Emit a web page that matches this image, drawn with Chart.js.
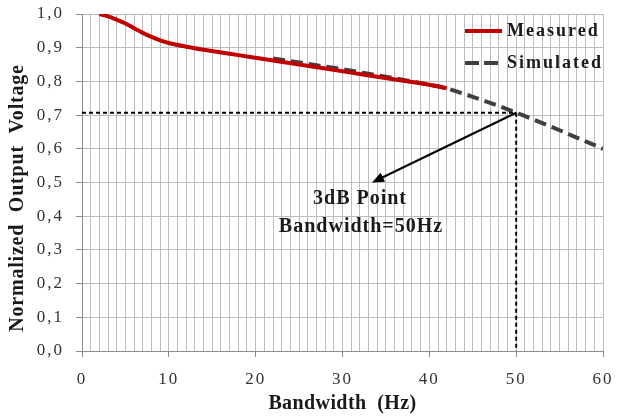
<!DOCTYPE html>
<html>
<head>
<meta charset="utf-8">
<script src="https://cdn.jsdelivr.net/npm/chart.js@4"></script>
<style>
    html, body { margin: 0; padding: 0; background: #fff; }
    #wrap { width: 617px; height: 416px; }
</style>
</head>
<body>
<div id="wrap"><canvas id="chart" width="617" height="416"></canvas></div>
<script>
// Measured response (Hz, normalized output)
const measuredX = [2, 3, 4, 5, 6, 7, 8, 9, 10, 12, 14, 16, 18, 20, 22, 25, 28, 31, 34, 37, 40, 42];
const measuredY = [1.0, 0.993, 0.983, 0.972, 0.958, 0.944, 0.932, 0.922, 0.914, 0.903, 0.894, 0.886,
                   0.878, 0.87, 0.862, 0.85, 0.838, 0.826, 0.814, 0.802, 0.79, 0.78];

// Simulated response
const simulatedX = [22, 26, 30, 34, 38, 42, 44, 46, 48, 50, 52, 54, 56, 58, 60];
const simulatedY = [0.868, 0.852, 0.836, 0.818, 0.8, 0.779, 0.763, 0.745, 0.727, 0.707, 0.687, 0.666, 0.644, 0.622, 0.6];

// 3dB point
const cutoffX = 50;
const cutoffY = 0.707;
const arrowTip = [33.4, 0.5];
const noteLines = ['3dB Point', 'Bandwidth=50Hz'];

const seriesNames = ['Measured', 'Simulated'];
const xTicks = [0, 10, 20, 30, 40, 50, 60];
const xTitle = 'Bandwidth  (Hz)';
const yTitle = 'Normalized  Output  Voltage';

const serif = "'Liberation Serif', 'DejaVu Serif', serif";

function toPoints(xs, ys) {
    return xs.map((x, i) => ({ x: x, y: ys[i] }));
}

// keep the plot area where the picture has it
function noScalePadding(scale) {
    scale.paddingTop = 0;
    scale.paddingBottom = 0;
    scale.paddingLeft = 0;
    scale.paddingRight = 0;
}

// Draws the arrow, the note, the legend and the axis titles
const overlayPlugin = {
    id: 'overlay',
    beforeDraw(chart) {
        // the picture's tick labels are a bit wider than the font
        chart.ctx.letterSpacing = '2px';
    },
    afterDatasetsDraw(chart) {
        const ctx = chart.ctx;
        const xs = chart.scales.x;
        const ys = chart.scales.y;
        const area = chart.chartArea;

        // arrow from the 3dB point down to the note
        const x0 = xs.getPixelForValue(cutoffX), y0 = ys.getPixelForValue(cutoffY);
        const x1 = xs.getPixelForValue(arrowTip[0]), y1 = ys.getPixelForValue(arrowTip[1]);
        const ang = Math.atan2(y1 - y0, x1 - x0);
        ctx.save();
        ctx.strokeStyle = '#000';
        ctx.fillStyle = '#000';
        ctx.lineWidth = 2;
        ctx.beginPath();
        ctx.moveTo(x0, y0);
        ctx.lineTo(x1 - 8 * Math.cos(ang), y1 - 8 * Math.sin(ang));
        ctx.stroke();
        ctx.beginPath();
        ctx.moveTo(x1, y1);
        ctx.lineTo(x1 - 12 * Math.cos(ang) + 5 * Math.sin(ang), y1 - 12 * Math.sin(ang) - 5 * Math.cos(ang));
        ctx.lineTo(x1 - 12 * Math.cos(ang) - 5 * Math.sin(ang), y1 - 12 * Math.sin(ang) + 5 * Math.cos(ang));
        ctx.closePath();
        ctx.fill();

        // note text
        ctx.font = 'bold 20px ' + serif;
        ctx.letterSpacing = '1px';
        ctx.textAlign = 'center';
        ctx.textBaseline = 'middle';
        ctx.fillStyle = '#1a1a1a';
        ctx.fillText(noteLines[0], x1 - 12, y1 + 16);
        ctx.fillText(noteLines[1], x1 - 11, y1 + 44);

        // legend
        const lx = 465, lw = 37;
        const rows = [31, 63];
        ctx.lineWidth = 4;
        ctx.strokeStyle = '#c00000';
        ctx.beginPath();
        ctx.moveTo(lx, rows[0]);
        ctx.lineTo(lx + lw, rows[0]);
        ctx.stroke();
        ctx.strokeStyle = '#404040';
        ctx.setLineDash([14, 5]);
        ctx.beginPath();
        ctx.moveTo(lx, rows[1]);
        ctx.lineTo(lx + lw, rows[1]);
        ctx.stroke();
        ctx.setLineDash([]);
        ctx.font = 'bold 18px ' + serif;
        ctx.letterSpacing = '2px';
        ctx.textAlign = 'left';
        ctx.fillText(seriesNames[0], lx + lw + 5, rows[0]);
        ctx.fillText(seriesNames[1], lx + lw + 5, rows[1]);

        // axis titles
        ctx.font = 'bold 20px ' + serif;
        ctx.letterSpacing = '0.4px';
        ctx.textAlign = 'center';
        ctx.fillText(xTitle, (area.left + area.right) / 2, 404);
        ctx.translate(18, 198);
        ctx.rotate(-Math.PI / 2);
        ctx.letterSpacing = '0.8px';
        ctx.fillText(yTitle, 0, 0);
        ctx.restore();
    }
};

new Chart(document.getElementById('chart'), {
    type: 'scatter',
    data: {
        datasets: [
            {
                label: '3dB level',
                data: [{ x: 0, y: cutoffY }, { x: cutoffX, y: cutoffY }],
                showLine: true,
                borderColor: '#000',
                borderWidth: 2,
                borderDash: [4, 3],
                pointRadius: 0
            },
            {
                label: '3dB frequency',
                data: [{ x: cutoffX, y: cutoffY }, { x: cutoffX, y: 0 }],
                showLine: true,
                borderColor: '#000',
                borderWidth: 2,
                borderDash: [4, 3],
                pointRadius: 0
            },
            {
                label: seriesNames[0],
                data: toPoints(measuredX, measuredY),
                showLine: true,
                borderColor: '#c00000',
                borderWidth: 4,
                cubicInterpolationMode: 'monotone',
                pointRadius: 0
            },
            {
                label: seriesNames[1],
                data: toPoints(simulatedX, simulatedY),
                showLine: true,
                borderColor: '#404040',
                borderWidth: 4,
                borderDash: [12, 6],
                cubicInterpolationMode: 'monotone',
                pointRadius: 0
            }
        ]
    },
    options: {
        responsive: false,
        animation: false,
        layout: { padding: { top: 14, right: 14, left: 0, bottom: 0 } },
        plugins: {
            legend: { display: false },
            tooltip: { enabled: false }
        },
        scales: {
            x: {
                type: 'linear',
                min: 0,
                max: 60,
                afterFit(scale) {
                    scale.height = 65;
                    noScalePadding(scale);
                },
                afterBuildTicks(scale) {
                    const t = [];
                    for (let v = 0; v <= 60; v++) t.push({ value: v });
                    scale.ticks = t;
                },
                ticks: {
                    autoSkip: false,
                    maxRotation: 0,
                    padding: 12,
                    color: '#333',
                    font: { family: serif, size: 17 },
                    callback: (v) => (xTicks.includes(v) ? String(v) : '')
                },
                grid: {
                    color: '#bdbdbd',
                    lineWidth: 1,
                    tickLength: 6,
                    tickColor: (c) => (c.tick && c.tick.value % 10 === 0 ? '#8c8c8c' : 'rgba(0,0,0,0)')
                },
                border: { color: '#8c8c8c', width: 1 }
            },
            y: {
                min: 0,
                max: 1,
                afterFit(scale) {
                    scale.width = 82;
                    noScalePadding(scale);
                },
                ticks: {
                    stepSize: 0.1,
                    padding: 12,
                    color: '#333',
                    font: { family: serif, size: 17 },
                    callback: (v) => v.toFixed(1).replace('.', ',')
                },
                grid: {
                    color: '#bdbdbd',
                    lineWidth: 1,
                    tickLength: 6,
                    tickColor: '#8c8c8c'
                },
                border: { color: '#8c8c8c', width: 1 }
            }
        }
    },
    plugins: [overlayPlugin]
});
</script>
</body>
</html>
